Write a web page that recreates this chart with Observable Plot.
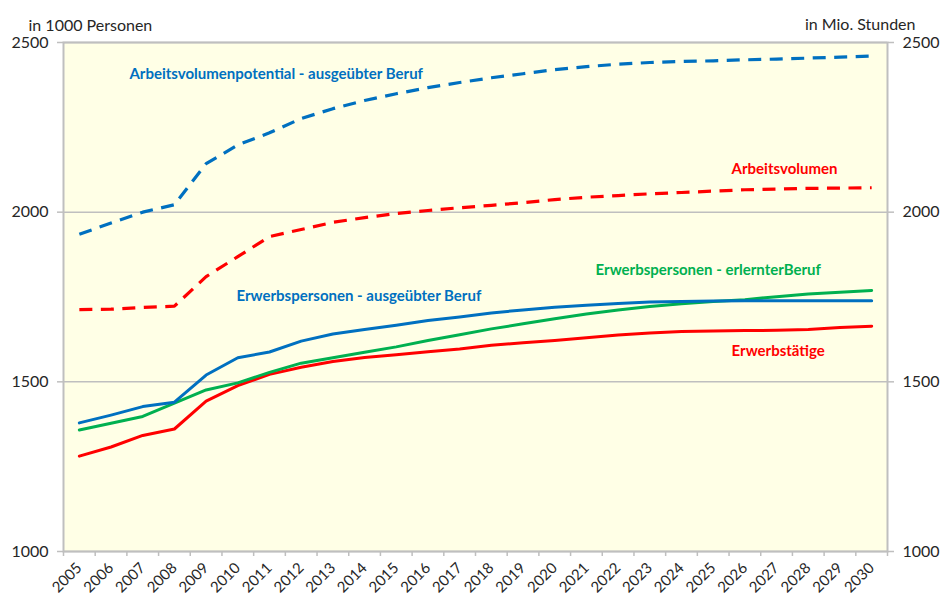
<!DOCTYPE html>
<html>
<head>
<meta charset="utf-8">
<script src="https://cdn.jsdelivr.net/npm/d3@7"></script>
<script src="https://cdn.jsdelivr.net/npm/@observablehq/plot@0.6"></script>
<style>
  html, body { margin: 0; padding: 0; background: #ffffff; }
  #chart { width: 941px; height: 605px; }
</style>
</head>
<body>
<div id="chart"></div>
<script>
// ---- data ----
const years = [2005,2006,2007,2008,2009,2010,2011,2012,2013,2014,2015,2016,2017,2018,2019,2020,2021,2022,2023,2024,2025,2026,2027,2028,2029,2030];

const arbeitsvolumenpotential = [1935,1968,2000,2022,2143,2198,2234,2276,2305,2329,2349,2367,2382,2396,2408,2420,2429,2436,2441,2444,2446,2449,2451,2454,2457,2460];
const arbeitsvolumen          = [1713,1714,1719,1723,1810,1869,1928,1949,1970,1984,1996,2005,2013,2020,2028,2037,2044,2049,2054,2058,2062,2066,2068,2070,2071,2072];
const erwerbspersonenAusgeuebt = [1379,1402,1427,1440,1520,1571,1588,1620,1641,1654,1667,1681,1691,1703,1712,1720,1726,1731,1735,1737,1738,1739,1739,1739,1739,1739];
const erwerbspersonenErlernt  = [1358,1378,1398,1437,1476,1497,1528,1555,1571,1587,1603,1622,1639,1656,1671,1686,1700,1712,1722,1730,1737,1742,1751,1759,1764,1769];
const erwerbstaetige          = [1281,1308,1342,1361,1443,1489,1522,1543,1560,1572,1580,1589,1597,1608,1615,1622,1630,1638,1644,1648,1650,1651,1652,1654,1660,1664];

const yTicks = [1000,1500,2000,2500];
const leftAxisTitle = "in 1000 Personen";
const rightAxisTitle = "in Mio. Stunden";
const seriesNames = [
  "Arbeitsvolumenpotential - ausgeübter Beruf",
  "Arbeitsvolumen",
  "Erwerbspersonen - ausgeübter Beruf",
  "Erwerbspersonen - erlernterBeruf",
  "Erwerbstätige"
];

// ---- build tables ----
const toRows = vals => years.map((yr, i) => ({year: yr, value: vals[i]}));
const boundaries = years.map(y => y - 0.5).concat([years[years.length - 1] + 0.5]);

const BLUE = "#0070C0", RED = "#FF0000", GREEN = "#00B050", GRID = "#BFBFBF";

const chart = Plot.plot({
  width: 941,
  height: 605,
  marginLeft: 63,
  marginRight: 54,
  marginTop: 42,
  marginBottom: 54,
  style: {fontFamily: "Lato, 'Open Sans', sans-serif", fontSize: "15px", color: "#262626", background: "#ffffff", overflow: "visible"},
  x: {type: "linear", domain: [boundaries[0], boundaries[boundaries.length - 1]]},
  y: {domain: [1000, 2500]},
  marks: [
    Plot.frame({fill: "#FFFFE6", stroke: null}),
    Plot.gridY(yTicks, {stroke: GRID, strokeOpacity: 1, strokeWidth: 1.5}),
    Plot.frame({stroke: GRID, strokeWidth: 2, fill: null}),
    // y axes
    Plot.axisY(yTicks, {anchor: "left", tickSize: 6, tickPadding: 9, stroke: GRID, strokeWidth: 1.5, fill: "#262626", tickFormat: d => String(d), fontSize: 16, label: null}),
    Plot.axisY(yTicks, {anchor: "right", tickSize: 6, tickPadding: 9, stroke: GRID, strokeWidth: 1.5, fill: "#262626", tickFormat: d => String(d), fontSize: 16, label: null}),
    // x axis: boundary ticks + rotated year labels
    Plot.axisX(boundaries, {tickSize: 5, stroke: GRID, strokeWidth: 1.5, tickFormat: () => "", label: null}),
    Plot.axisX(years, {tickSize: 0, tickPadding: 14, tickRotate: -45, fill: "#262626", tickFormat: d => String(d), fontSize: 15, label: null}),
    // lines
    Plot.line(toRows(arbeitsvolumen), {x: "year", y: "value", stroke: RED, strokeWidth: 3.2, strokeDasharray: "13,8.5", strokeLinecap: "butt"}),
    Plot.line(toRows(arbeitsvolumenpotential), {x: "year", y: "value", stroke: BLUE, strokeWidth: 3.2, strokeDasharray: "13,8.5", strokeLinecap: "butt"}),
    Plot.line(toRows(erwerbstaetige), {x: "year", y: "value", stroke: RED, strokeWidth: 3}),
    Plot.line(toRows(erwerbspersonenErlernt), {x: "year", y: "value", stroke: GREEN, strokeWidth: 3}),
    Plot.line(toRows(erwerbspersonenAusgeuebt), {x: "year", y: "value", stroke: BLUE, strokeWidth: 3}),
    // series labels
    Plot.text([seriesNames[0]], {x: 2006.58, y: 2408, text: d => d, fill: BLUE, fontWeight: "bold", textAnchor: "start", fontSize: 15}),
    Plot.text([seriesNames[1]], {x: 2025.58, y: 2128, text: d => d, fill: RED, fontWeight: "bold", textAnchor: "start", fontSize: 15}),
    Plot.text([seriesNames[2]], {x: 2009.96, y: 1751, text: d => d, fill: BLUE, fontWeight: "bold", textAnchor: "start", fontSize: 15}),
    Plot.text([seriesNames[3]], {x: 2021.29, y: 1828, text: d => d, fill: GREEN, fontWeight: "bold", textAnchor: "start", fontSize: 15}),
    Plot.text([seriesNames[4]], {x: 2025.58, y: 1589, text: d => d, fill: RED, fontWeight: "bold", textAnchor: "start", fontSize: 15}),
    // axis titles
    Plot.text([leftAxisTitle], {frameAnchor: "top-left", text: d => d, textAnchor: "start", dx: -35, dy: -23, fill: "#262626", fontSize: 16}),
    Plot.text([rightAxisTitle], {frameAnchor: "top-right", text: d => d, textAnchor: "end", dx: 28, dy: -24, fill: "#262626", fontSize: 16})
  ]
});

document.getElementById("chart").appendChild(chart);
</script>
</body>
</html>
